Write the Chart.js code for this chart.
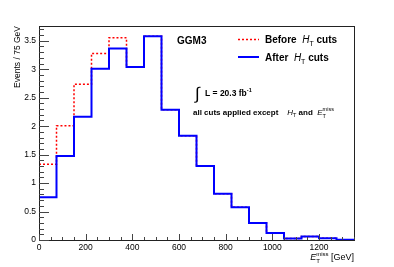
<!DOCTYPE html>
<html><head><meta charset="utf-8">
<script src="https://cdn.jsdelivr.net/npm/chart.js@4/dist/chart.umd.min.js"></script>
<style>html,body{margin:0;padding:0;background:#fff;}canvas{display:block;}</style>
</head><body>
<canvas id="c" width="394" height="267"></canvas>
<script>
// ---- data ----
const binEdges = [0,75,150,225,300,375,450,525,600,675,750,825,900,975,1050,1125,1200,1275,1350];
const afterCuts  = [0.75,1.475,2.165,3.01,3.366,3.038,3.582,2.288,1.832,1.30,0.813,0.574,0.30,0.123,0.025,0.06,0.03,0.005];
const beforeCuts = [1.33,2.007,2.737,3.278,3.553,3.038,3.582,2.288,1.832,1.30,0.813,0.574,0.30,0.123,0.025,0.06,0.03,0.005];
const xTickValues = [0,200,400,600,800,1000,1200];
const yTickValues = [0,0.5,1,1.5,2,2.5,3,3.5];

const FONT = '"Liberation Sans", Arial, Helvetica, sans-serif';
function histPoints(vals){
  return binEdges.map((x,i)=>({x:x, y: vals[Math.min(i, vals.length-1)]}));
}

function drawSegs(ctx, segs, x, y){
  let cx = x;
  for (const s of segs){
    ctx.font = s.font;
    if (s.stack){
      const w1 = ctx.measureText(s.sub).width;
      const w2 = ctx.measureText(s.sup).width;
      ctx.fillText(s.sub, cx, y + s.subDy);
      ctx.fillText(s.sup, cx, y + s.supDy);
      cx += Math.max(w1,w2);
    } else {
      ctx.fillText(s.t, cx, y + (s.dy||0));
      cx += ctx.measureText(s.t).width;
    }
  }
  return cx - x;
}
function segsWidth(ctx, segs){
  let w = 0;
  for (const s of segs){
    ctx.font = s.font;
    if (s.stack) w += Math.max(ctx.measureText(s.sub).width, ctx.measureText(s.sup).width);
    else w += ctx.measureText(s.t).width;
  }
  return w;
}

const overlay = {
  id: 'overlay',
  afterDraw(chart){
    const ctx = chart.ctx;
    const a = chart.chartArea;
    const xs = chart.scales.x, ys = chart.scales.y;
    ctx.save();
    ctx.strokeStyle = '#222';
    ctx.lineWidth = 1;
    ctx.strokeRect(Math.round(a.left)+0.5, Math.round(a.top)+0.5, Math.round(a.right-a.left), Math.round(a.bottom-a.top));
    ctx.beginPath();
    for (let v = 0; v <= ys.max + 1e-9; v += 0.1){
      const vv = Math.round(v*10)/10;
      const major = Math.abs(vv*2 - Math.round(vv*2)) < 1e-6;
      const py = Math.round(ys.getPixelForValue(vv)) + 0.5;
      ctx.moveTo(a.left, py); ctx.lineTo(a.left + (major ? 10 : 5), py);
    }
    for (let v = 0; v <= xs.max + 1e-9; v += 50){
      const major = v % 200 === 0;
      const px = Math.round(xs.getPixelForValue(v)) + 0.5;
      ctx.moveTo(px, a.bottom); ctx.lineTo(px, a.bottom - (major ? 6 : 3));
    }
    ctx.strokeStyle = '#444';
    ctx.stroke();

    ctx.fillStyle = '#000';
    ctx.textBaseline = 'alphabetic';
    ctx.textAlign = 'left';
    ctx.font = 'bold 10px ' + FONT;
    ctx.fillText('GGM3', 177, 44);

    const bold10 = 'bold 10px ' + FONT, it10 = 'italic 10px ' + FONT, sub7 = '7px ' + FONT;
    ctx.lineWidth = 1.5;
    ctx.strokeStyle = '#ff0000';
    ctx.setLineDash([2,2]);
    ctx.beginPath(); ctx.moveTo(238, 39.5); ctx.lineTo(259, 39.5); ctx.stroke();
    ctx.setLineDash([]);
    ctx.strokeStyle = '#0000ff';
    ctx.lineWidth = 2;
    ctx.beginPath(); ctx.moveTo(238, 57); ctx.lineTo(259, 57); ctx.stroke();
    ctx.fillStyle = '#000';
    drawSegs(ctx, [{t:'Before  ', font:bold10},{t:'H', font:it10},{t:'T', font:sub7, dy:3},{t:' cuts', font:bold10}], 265, 43);
    drawSegs(ctx, [{t:'After  ', font:bold10},{t:'H', font:it10},{t:'T', font:sub7, dy:3},{t:' cuts', font:bold10}], 265, 61);

    ctx.font = '17px ' + FONT;
    ctx.fillText('\u222B', 195, 99);
    drawSegs(ctx, [{t:'L = 20.3 fb', font:'bold 8.5px ' + FONT},{t:'-1', font:'bold 5.5px ' + FONT, dy:-4}], 205, 96);

    const b8 = 'bold 8px ' + FONT, i8 = 'italic 8px ' + FONT, s5 = '5.5px ' + FONT;
    drawSegs(ctx, [{t:'all cuts applied except    ', font:b8},{t:'H', font:i8},{t:'T', font:s5, dy:2},{t:' and  ', font:b8},{t:'E', font:i8},{stack:true, sub:'T', sup:'miss', font:s5, subDy:2.5, supDy:-4}], 193, 115);

    const i9 = 'italic 9px ' + FONT, r9 = '9px ' + FONT, s6 = '6px ' + FONT;
    const xt = [{t:'E', font:i9},{stack:true, sub:'T', sup:'miss', font:s6, subDy:3, supDy:-4.5},{t:' [GeV]', font:r9}];
    const w = segsWidth(ctx, xt);
    drawSegs(ctx, xt, a.right - w, 260);

    ctx.save();
    ctx.translate(20, a.top);
    ctx.rotate(-Math.PI/2);
    ctx.font = '8.5px ' + FONT;
    ctx.textAlign = 'right';
    ctx.fillText('Events / 75 GeV', 0, 0);
    ctx.restore();

    ctx.restore();
  }
};

new Chart(document.getElementById('c'), {
  type: 'line',
  data: {
    datasets: [
      { label: 'After HT cuts', data: histPoints(afterCuts), borderColor: '#0000ff', borderWidth: 2,
        stepped: 'before', pointRadius: 0, fill: false, order: 0 },
      { label: 'Before HT cuts', data: histPoints(beforeCuts), borderColor: '#ff0000', borderWidth: 1.5,
        borderDash: [2,2], stepped: 'before', pointRadius: 0, fill: false, order: 1 }
    ]
  },
  options: {
    responsive: false,
    animation: false,
    devicePixelRatio: 1,
    layout: { padding: { top: 26, right: 40, left: 0, bottom: 0 } },
    plugins: { legend: { display: false }, tooltip: { enabled: false }, title: { display: false } },
    scales: {
      x: {
        type: 'linear', min: 0, max: 1350,
        grid: { display: false, drawTicks: false },
        border: { display: false },
        afterFit: s => { s.height = 27; },
        afterBuildTicks: s => { s.ticks = xTickValues.map(v => ({value: v})); },
        ticks: { color: '#000', font: { family: FONT, size: 8.5 }, padding: 3, maxRotation: 0, autoSkip: false,
                 callback: v => String(v) }
      },
      y: {
        type: 'linear', min: 0, max: 3.76,
        grid: { display: false, drawTicks: false },
        border: { display: false },
        afterFit: s => { s.width = 39; },
        afterBuildTicks: s => { s.ticks = yTickValues.map(v => ({value: v})); },
        ticks: { color: '#000', font: { family: FONT, size: 8.5 }, padding: 3, autoSkip: false,
                 callback: v => String(v) }
      }
    }
  },
  plugins: [overlay]
});
</script>
</body></html>
